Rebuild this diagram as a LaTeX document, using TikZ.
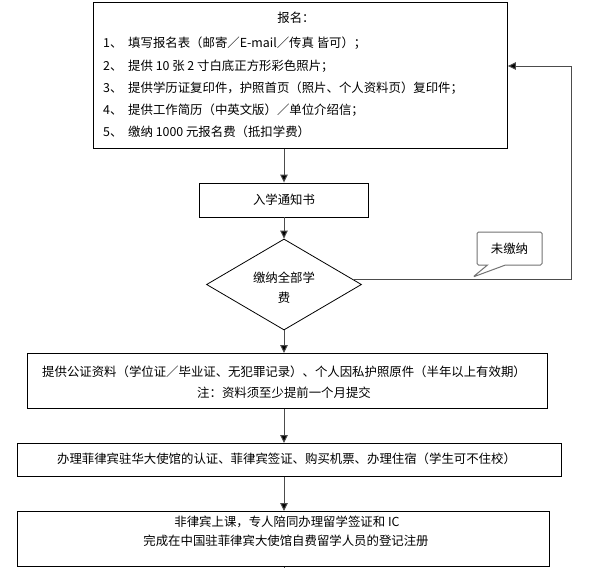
\documentclass[tikz,border=0pt]{standalone}
\usepackage{fontspec}
\newfontfamily\cjk{Noto Sans CJK SC}
\usetikzlibrary{shapes.geometric,shapes.callouts,arrows.meta,calc}
\begin{document}
\begin{tikzpicture}[x=1pt,y=-1pt,
  every node/.style={font=\cjk\fontsize{12.4}{15}\selectfont, inner sep=0pt},
  box/.style={draw=black, line width=0.9pt, anchor=north west, inner sep=0pt},
  conn/.style={draw=black!70, line width=1pt, -{Triangle[length=8pt,width=7.5pt,fill=black]}},
  plain/.style={draw=black!70, line width=1pt},
  txt/.style={anchor=center}]
\useasboundingbox[fill=white] (0,0) rectangle (592,568);
\coordinate (col) at (284,0);
% top box
\node[box, minimum width=414pt, minimum height=146pt] (reg) at (93,2) {};
\node[txt] (t0) at (296,18) {报名：};
\node[anchor=west] (n1) at (103,43) {1、};
\node[anchor=west] (l1) at (128,43) {填写报名表（邮寄／E-mail／传真 皆可）；};
\node[anchor=west] (n2) at (103,66) {2、};
\node[anchor=west] (l2) at (128,66) {提供 10 张 2 寸白底正方形彩色照片；};
\node[anchor=west] (n3) at (103,88) {3、};
\node[anchor=west] (l3) at (128,88) {提供学历证复印件，护照首页（照片、个人资料页）复印件；};
\node[anchor=west] (n4) at (103,110) {4、};
\node[anchor=west] (l4) at (128,110) {提供工作简历（中英文版）／单位介绍信；};
\node[anchor=west] (n5) at (103,132) {5、};
\node[anchor=west] (l5) at (128,132) {缴纳 1000 元报名费（抵扣学费）};
% notice
\node[box, anchor=center, minimum width=169pt, minimum height=34pt] (notice) at (284,200) {入学通知书};
% diamond
\node[draw=black, line width=0.8pt, diamond, minimum width=155pt, minimum height=91pt] (dia) at (284,284.5) {};
\node[txt, align=center, font=\cjk\fontsize{12.4}{20}\selectfont] (diat) at (284,288) {缴纳全部学\\费};
% box3
\node[box, minimum width=520pt, minimum height=55pt] (b3) at (27,353) {};
\node[txt] (b3a) at (284,372) {提供公证资料（学位证／毕业证、无犯罪记录）、个人因私护照原件（半年以上有效期）};
\node[txt] (b3b) at (284,393) {注：资料须至少提前一个月提交};
% box4
\node[box, minimum width=544pt, minimum height=33pt] (b4) at (17,443) {};
\node[txt] (b4a) at (286.5,459) {办理菲律宾驻华大使馆的认证、菲律宾签证、购买机票、办理住宿（学生可不住校）};
% box5
\node[box, minimum width=532pt, minimum height=55pt] (b5) at (17,511) {};
\node[txt] (b5a) at (287,522) {非律宾上课，专人陪同办理留学签证和 IC};
\node[txt] (b5b) at (286,541) {完成在中国驻菲律宾大使馆自费留学人员的登记注册};
% connectors
\draw[conn] (reg.south -| col) -- (notice.north);
\draw[conn] (notice.south) -- (dia.north);
\draw[conn] (dia.south) -- (dia.south |- b3.north);
\draw[conn] (b3.south -| col) -- (b4.north -| col);
\draw[conn] (b4.south -| col) -- (b5.north -| col);
\coordinate (fb) at (571,66);
\draw[conn] (dia.4) -| (fb) -- (reg.east |- fb);
\coordinate (bend) at (284,568);
\draw[plain] (b5.south -| col) -- (bend);
% callout
\node[rectangle callout, draw=black!55, line width=1pt, fill=white, rounded corners=1.5pt,
  minimum width=65pt, minimum height=33pt, callout absolute pointer={(473,277)},
  callout pointer width=18pt] (cb) at (509.5,248.5) {未缴纳};
\end{tikzpicture}
\end{document}
